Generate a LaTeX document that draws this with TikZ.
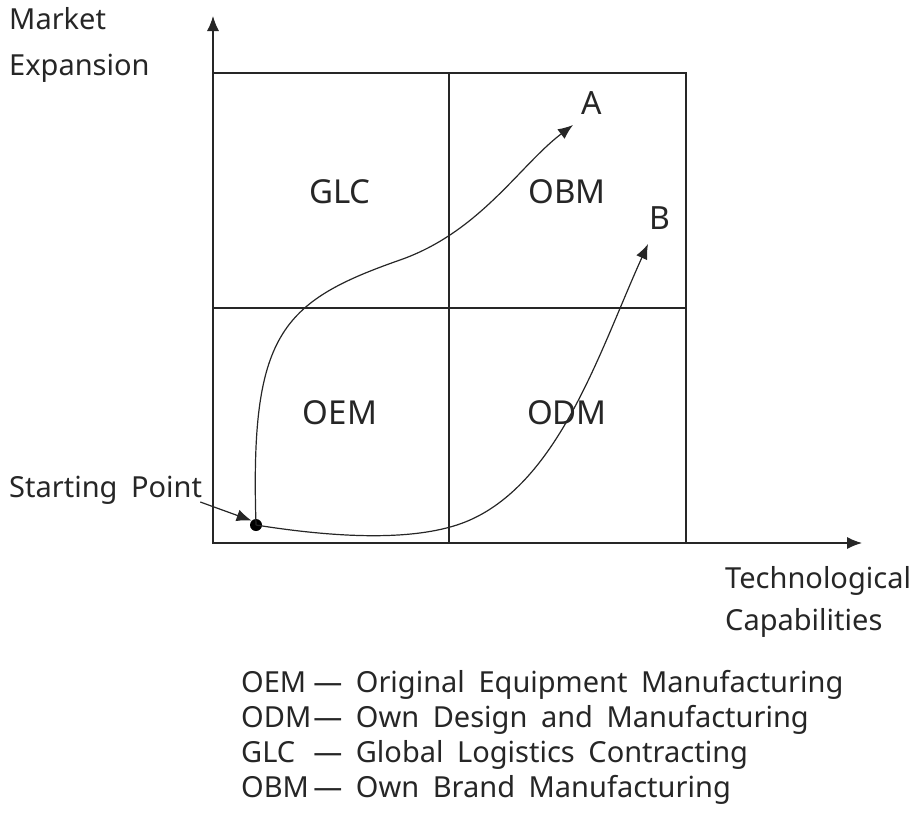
\documentclass[tikz,border=0pt]{standalone}
\usepackage{fontspec}
\setmainfont{Noto Sans}[WordSpace=1.8]
\usetikzlibrary{arrows.meta,positioning}
\tikzset{%
  >={Latex[width=12pt,length=15pt]},
  % Specifications for style of nodes:
        base/.style = {inner sep=0pt, text=black!85,
                       font=\fontsize{29}{35}\selectfont},
    quadrant/.style = {base, font=\fontsize{33}{35}\selectfont},
   axislabel/.style = {base, align=left},
      legend/.style = {base, anchor=north west},
        line/.style = {line width=1.2pt, black!85},
}
\begin{document}
\begin{tikzpicture}[x=1pt, y=-1pt]
  \useasboundingbox (0,0) rectangle (917,822);
  % Specification of nodes (position, etc.)
  \coordinate (origin) at (213,543);
  \coordinate (yend)   at (213,16);
  \coordinate (xend)   at (862,543);
  \node (GLC) [quadrant] at (340,192) {GLC};
  \node (OBM) [quadrant] at (567,192) {OBM};
  \node (OEM) [quadrant] at (340,413) {OEM};
  \node (ODM) [quadrant] at (567,413) {ODM};
  \node (market) [axislabel, anchor=north west,
                  font=\fontsize{29}{46}\selectfont] at (9,7)
                                                   {Market\\Expansion};
  \node (techcap) [axislabel, anchor=north west,
                   font=\fontsize{29}{42}\selectfont] at (725,566)
                                            {Technological\\Capabilities};
  \node (startlabel) [base, anchor=west] at (9,490) {Starting Point};
  \node (dot) [circle, fill=black, inner sep=0pt, minimum size=12pt]
                                                      at (256,525) {};
  \node (A) [quadrant, font=\fontsize{32}{35}\selectfont] at (592,103) {A};
  \node (B) [quadrant, font=\fontsize{32}{35}\selectfont] at (660,218) {B};
  \coordinate (tipA) at (573,125);
  \coordinate (tipB) at (648,244);
  \node (legend) [legend] at (241,668)
    {\begin{tabular}{@{}l@{\hspace{2pt}}l@{}}
      OEM & --- Original Equipment Manufacturing\\
      ODM & --- Own Design and Manufacturing\\
      GLC & --- Global Logistics Contracting\\
      OBM & --- Own Brand Manufacturing
     \end{tabular}};
  % Grid of the four quadrants
  \draw[line] (origin) rectangle (686,73);
  \draw[line] (449,73) -- (449,543);
  \draw[line] (213,308) -- (686,308);
  % Axes
  \draw[line, ->] (origin) -- (yend);
  \draw[line, ->] (origin) -- (xend);
  % Specification of lines between nodes specified above
  \draw[line, ->] (startlabel.east) ++(-2,12) -- (dot.north west);
  \draw[line, ->] (dot.center) .. controls (250,335) and (280,302)
                  .. (400,260) .. controls (480,232) and (520,165) .. (tipA);
  \draw[line, ->] (dot.center) .. controls (350,540) and (425,540)
                  .. (470,520) .. controls (560,480) and (600,350) .. (tipB);
\end{tikzpicture}
\end{document}
